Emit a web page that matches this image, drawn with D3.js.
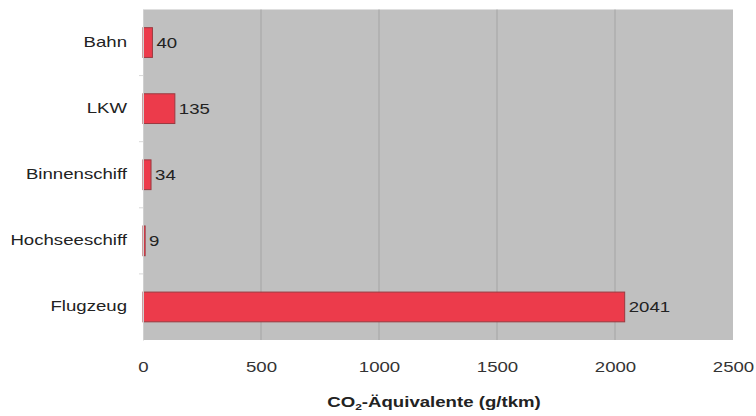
<!DOCTYPE html>
<html><head><meta charset="utf-8">
<script src="https://cdn.jsdelivr.net/npm/d3@7"></script>
<style>body{margin:0;background:#fff}svg{display:block}text{font-family:"Liberation Sans",Arial,sans-serif}</style>
</head><body>
<svg id="c" width="756" height="416"></svg>
<script>
const categories = ["Bahn","LKW","Binnenschiff","Hochseeschiff","Flugzeug"];
const values = [40,135,34,9,2041];
const xTicks = [0,500,1000,1500,2000,2500];

const SX = 1.33; // horizontal stretch of the reference's type
const svg = d3.select("#c");
const m = {l:143, t:9.5, r:733, b:340};
const x = d3.scaleLinear().domain([0,2500]).range([m.l,m.r]);
const y = d3.scaleBand().domain(categories).range([m.t,m.b]).paddingInner(0.55).paddingOuter(0.275);

svg.append("rect").attr("x",m.l).attr("y",m.t).attr("width",m.r-m.l).attr("height",m.b-m.t).attr("fill","#c0c0c0");

svg.append("g").selectAll("line").data(xTicks.slice(1,-1)).join("line")
  .attr("x1",d=>x(d)).attr("x2",d=>x(d)).attr("y1",m.t).attr("y2",m.b)
  .attr("stroke","#a4a4a4").attr("stroke-width",1);

svg.append("g").selectAll("rect").data(values).join("rect")
  .attr("x",x(0)).attr("y",(d,i)=>y(categories[i]))
  .attr("width",d=>x(d)-x(0)).attr("height",y.bandwidth())
  .attr("fill","#ec3b4b").attr("stroke","#9a3a40").attr("stroke-width",1);

// value labels
svg.append("g").selectAll("text").data(values).join("text")
  .attr("transform",(d,i)=>`translate(${x(d)+4},${y(categories[i])+y.bandwidth()/2}) scale(${SX},1)`)
  .attr("dy","0.36em").attr("font-size",14).attr("fill","#222").text(d=>d);

// left axis
const yAxis = svg.append("g").attr("transform",`translate(${m.l},0)`)
  .call(d3.axisLeft(y).tickSize(0).tickPadding(16));
yAxis.select(".domain").attr("stroke","#d0d0d0");
yAxis.selectAll(".tick text").each(function(){
  const s = d3.select(this);
  const xx = +s.attr("x");
  s.attr("x",null).attr("transform",`translate(${xx},0) scale(${SX},1)`)
   .attr("font-size",14).attr("fill","#222").attr("font-family","'Liberation Sans',Arial,sans-serif");
});
// small separator ticks on the left axis
svg.append("g").selectAll("line").data(categories.slice(0,-1)).join("line")
  .attr("x1",m.l-4).attr("x2",m.l).attr("y1",d=>y(d)+y.step()*0.5+y.bandwidth()/2).attr("y2",d=>y(d)+y.step()*0.5+y.bandwidth()/2)
  .attr("stroke","#d8d8d8");

// bottom axis
const xAxis = svg.append("g").attr("transform",`translate(0,${m.b})`)
  .call(d3.axisBottom(x).tickValues(xTicks).tickSize(0).tickPadding(22).tickFormat(d3.format("d")));
xAxis.select(".domain").remove();
xAxis.selectAll(".tick text").each(function(){
  const s = d3.select(this);
  const yy = +s.attr("y");
  s.attr("y",null).attr("transform",`translate(0,${yy}) scale(${SX},1)`)
   .attr("font-size",14).attr("fill","#333").attr("font-family","'Liberation Sans',Arial,sans-serif");
});

const t = svg.append("text").attr("transform",`translate(${x(1250)-4},407) scale(${SX},1)`).attr("text-anchor","middle")
  .attr("font-size",14).attr("font-weight","bold").attr("fill","#222");
t.append("tspan").text("CO");
t.append("tspan").attr("font-size",9).attr("dy",3).text("2");
t.append("tspan").attr("dy",-3).text("-Äquivalente (g/tkm)");
</script>
</body></html>
